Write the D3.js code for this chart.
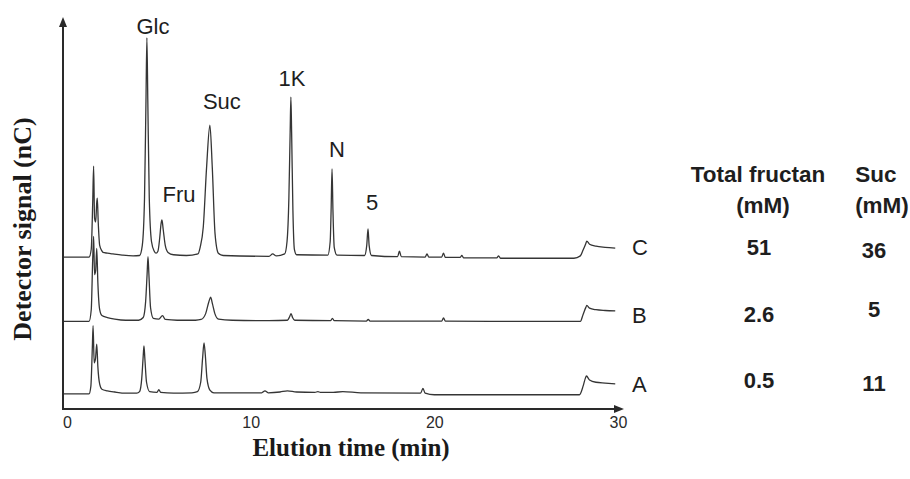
<!DOCTYPE html>
<html>
<head>
<meta charset="utf-8">
<script src="https://cdn.jsdelivr.net/npm/d3@7"></script>
<style>
  html, body { margin: 0; padding: 0; background: #ffffff; }
  svg { display: block; }
</style>
</head>
<body>
<svg id="chart" width="910" height="479"></svg>
<script>
// ---------------- DATA ----------------
// Sample names (stacked chromatograms, bottom to top)
const sampleNames = ["A", "B", "C"];
// Vertical stacking offset for each trace (signal units)
const sampleOffsets = [3.6, 22.2, 38.7];

// Trace A: [elution time (min), detector signal relative to baseline]
const traceA = [
  [-0.2, 0], [1.2, 0], [1.3, 2], [1.38, 12], [1.42, 17.5], [1.48, 8], [1.55, 9], [1.62, 12.8], [1.68, 7],
  [1.78, 2.5], [1.9, 1.2], [2.2, 0.8], [2.6, 0.5], [3.2, 0.2], [3.8, 0.2],
  [3.95, 0.6], [4.07, 4], [4.14, 9], [4.19, 12.3], [4.24, 9], [4.33, 3], [4.5, 0.6], [4.9, 0.4],
  [5.0, 1.1], [5.1, 0.4], [5.8, 0.2], [6.8, 0.3],
  [7.1, 0.6], [7.28, 3], [7.38, 9], [7.46, 13.1], [7.53, 10], [7.62, 4], [7.78, 1], [8.0, 0.3],
  [10.6, 0.3], [10.78, 0.8], [10.95, 0.3], [11.6, 0.5], [12.0, 0.8], [12.5, 0.5], [13.5, 0.4], [13.66, 0.6],
  [13.8, 0.4], [14.5, 0.4], [15.02, 0.6], [16.0, 0.3], [19.25, 0.2], [19.38, 1.4], [19.5, 0.2], [20.0, -0.2],
  [27.9, -0.2], [28.1, 2], [28.22, 4], [28.28, 4.6], [28.45, 3.6], [28.8, 3.0], [29.3, 2.8], [29.85, 2.6]
];

// Trace B
const traceB = [
  [-0.2, 0], [1.2, 0], [1.32, 3], [1.40, 16], [1.45, 21.8], [1.50, 12], [1.56, 13], [1.62, 18.7], [1.68, 10],
  [1.78, 3], [1.9, 1.5], [2.2, 1.0], [2.6, 0.6], [3.2, 0.3], [3.9, 0.3],
  [4.15, 1], [4.28, 5], [4.36, 12], [4.41, 16.6], [4.46, 12], [4.55, 3.5], [4.7, 0.8], [5.0, 0.6],
  [5.2, 1.5], [5.35, 0.5], [6.0, 0.3], [7.0, 0.3],
  [7.3, 0.5], [7.55, 2], [7.72, 5], [7.82, 6.2], [7.92, 4.5], [8.05, 2], [8.25, 0.6], [9.0, 0.3],
  [11.0, 0.2], [12.0, 0.3], [12.12, 1.2], [12.2, 2], [12.28, 1], [12.4, 0.3],
  [14.35, 0.2], [14.45, 0.8], [14.55, 0.2], [16.3, 0.1], [16.4, 0.5], [16.5, 0.1],
  [20.4, 0.1], [20.5, 0.9], [20.6, 0.1], [24.0, 0], [27.95, 0],
  [28.1, 1.8], [28.25, 3.6], [28.3, 4.1], [28.45, 3.4], [28.8, 3.0], [29.3, 2.8], [29.85, 2.7]
];

// Trace C
const traceC = [
  [-0.2, 0], [1.2, 0], [1.32, 2], [1.40, 14], [1.45, 23.3], [1.50, 10], [1.56, 9], [1.62, 14], [1.65, 15.1],
  [1.70, 9], [1.78, 3], [1.9, 1.6], [1.96, 1.2], [2.2, 1.0], [2.5, 0.8], [3.0, 0.5], [3.6, 0.3], [3.95, 0.4],
  [4.1, 3], [4.22, 15], [4.3, 40], [4.35, 56.2], [4.40, 40], [4.48, 15], [4.6, 4], [4.75, 1.5], [4.85, 1.0],
  [4.95, 1.5], [5.05, 5], [5.12, 8.5], [5.17, 9.5], [5.24, 7], [5.35, 3], [5.5, 1.2], [5.8, 0.6], [6.5, 0.4],
  [7.13, 0.8], [7.25, 2.5], [7.42, 7.7], [7.6, 23], [7.78, 33.8], [7.91, 23], [8.06, 6], [8.24, 1], [8.5, 0.4],
  [11.0, 0.2], [11.2, 0.8], [11.4, 0.3], [11.85, 0.8], [11.98, 4], [12.08, 15], [12.15, 32], [12.19, 41],
  [12.23, 32], [12.30, 12], [12.38, 2], [12.5, 0.6], [14.2, 0.5], [14.33, 4], [14.38, 12], [14.43, 22.6],
  [14.48, 12], [14.55, 2.5], [14.7, 0.5], [16.2, 0.4], [16.32, 3], [16.39, 7.2], [16.45, 3], [16.58, 0.4],
  [18.0, 0.1], [18.1, 1.5], [18.2, 0.1], [19.5, 0], [19.6, 0.8], [19.7, 0], [20.4, 0], [20.5, 1.0], [20.6, -0.1],
  [21.4, -0.1], [21.5, 0.4], [21.6, -0.2], [23.4, -0.2], [23.5, 0.3], [23.6, -0.3], [27.6, -0.3],
  [27.95, 0.3], [28.1, 1.8], [28.25, 3.5], [28.3, 4.1], [28.45, 3.3], [28.8, 2.8], [29.3, 2.5], [29.85, 2.3]
];

// Peak annotations (on trace C)
const peakLabels = ["Glc", "Fru", "Suc", "1K", "N", "5"];
const peakTimes  = [4.35, 5.17, 7.78, 12.19, 14.43, 16.39];

// X axis ticks
const xTicks = [0, 10, 20, 30];

// Table on the right
const tableHeaders = [["Total fructan", "(mM)"], ["Suc", "(mM)"]];
const totalFructan = ["0.5", "2.6", "51"];   // A, B, C
const sucrose      = ["11", "5", "36"];       // A, B, C

// ---------------- DRAWING ----------------
const traces = [traceA, traceB, traceC];
const svg = d3.select("#chart");
const ink = "#2a2a2a";
const sans = "'Liberation Sans', Arial, Helvetica, sans-serif";
const serif = "'Liberation Serif', 'Times New Roman', serif";

const x = d3.scaleLinear().domain([0, 30]).range([67, 618]);
const y = d3.scaleLinear().domain([0, 100]).range([408, 18]);

// traces
const line = d3.line()
  .x(d => x(d[0]))
  .y(d => y(d[1]))
  .curve(d3.curveMonotoneX);

traces.forEach((tr, i) => {
  const off = sampleOffsets[i];
  svg.append("path")
    .datum(tr.map(p => [p[0], p[1] + off]))
    .attr("d", line)
    .attr("fill", "none")
    .attr("stroke", "#353535")
    .attr("stroke-width", 1.3)
    .attr("stroke-linejoin", "round");
});

// axes lines with arrows
const axisX0 = 63, axisY0 = 409;
svg.append("line").attr("x1", axisX0).attr("y1", axisY0).attr("x2", 617).attr("y2", axisY0)
  .attr("stroke", ink).attr("stroke-width", 2);
svg.append("path").attr("d", `M624,${axisY0} L614,${axisY0 - 4} L614,${axisY0 + 4} Z`).attr("fill", ink);
svg.append("line").attr("x1", axisX0).attr("y1", axisY0 + 1).attr("x2", axisX0).attr("y2", 24)
  .attr("stroke", ink).attr("stroke-width", 2);
svg.append("path").attr("d", `M${axisX0},17 L${axisX0 - 4},27 L${axisX0 + 4},27 Z`).attr("fill", ink);

// x axis tick labels via d3 axis
const xAxis = d3.axisBottom(x).tickValues(xTicks).tickSize(0).tickPadding(8).tickFormat(d3.format("d"));
const gx = svg.append("g").attr("transform", `translate(0,${axisY0})`).call(xAxis);
gx.attr("font-size", null).attr("font-family", null);
gx.select(".domain").remove();
gx.selectAll("text")
  .style("font-family", sans).style("font-size", "16px").style("fill", ink);

// axis titles
svg.append("text").attr("x", 351).attr("y", 456).attr("text-anchor", "middle")
  .style("font-family", serif).style("font-weight", "bold").style("font-size", "25px").attr("fill", "#1a1a1a")
  .text("Elution time (min)");
svg.append("text").attr("transform", "translate(31,229) rotate(-90)").attr("text-anchor", "middle")
  .style("font-family", serif).style("font-weight", "bold").style("font-size", "26px").attr("fill", "#1a1a1a")
  .text("Detector signal (nC)");

// peak labels
const labelNudge = [[6, -4], [17, -18], [12, -16], [1, -11], [5, -12], [4, -19]];
const cOff = sampleOffsets[2];
peakLabels.forEach((lab, i) => {
  const t = peakTimes[i];
  const apex = d3.max(traceC.filter(p => Math.abs(p[0] - t) < 0.02), p => p[1]);
  svg.append("text")
    .attr("x", x(t) + labelNudge[i][0])
    .attr("y", y(apex + cOff) + labelNudge[i][1])
    .attr("text-anchor", "middle")
    .style("font-family", sans).style("font-size", "22px").attr("fill", "#1e1e1e")
    .text(lab);
});

// sample labels at right end of traces
const sampleLabelY = [392, 323, 255];
sampleNames.forEach((n, i) => {
  svg.append("text").attr("x", 632).attr("y", sampleLabelY[i])
    .style("font-family", sans).style("font-size", "22px").attr("fill", "#1e1e1e").text(n);
});

// table
const colX = [758, 876];
const hdrNudge = [5, 6];
tableHeaders.forEach((h, j) => {
  svg.append("text").attr("x", colX[j]).attr("y", 182).attr("text-anchor", "middle")
    .style("font-family", sans).style("font-weight", "bold").style("font-size", "22.5px").attr("fill", "#1e1e1e").text(h[0]);
  svg.append("text").attr("x", colX[j] + hdrNudge[j]).attr("y", 213).attr("text-anchor", "middle")
    .style("font-family", sans).style("font-weight", "bold").style("font-size", "22.5px").attr("fill", "#1e1e1e").text(h[1]);
});
const rowY1 = [388, 322, 255];
const rowY2 = [391, 317, 258];
totalFructan.forEach((v, i) => {
  svg.append("text").attr("x", colX[0] + 1).attr("y", rowY1[i]).attr("text-anchor", "middle")
    .style("font-family", sans).style("font-weight", "bold").style("font-size", "22px").attr("fill", "#1e1e1e").text(v);
});
sucrose.forEach((v, i) => {
  svg.append("text").attr("x", colX[1] - 2).attr("y", rowY2[i]).attr("text-anchor", "middle")
    .style("font-family", sans).style("font-weight", "bold").style("font-size", "22px").attr("fill", "#1e1e1e").text(v);
});
</script>
</body>
</html>
